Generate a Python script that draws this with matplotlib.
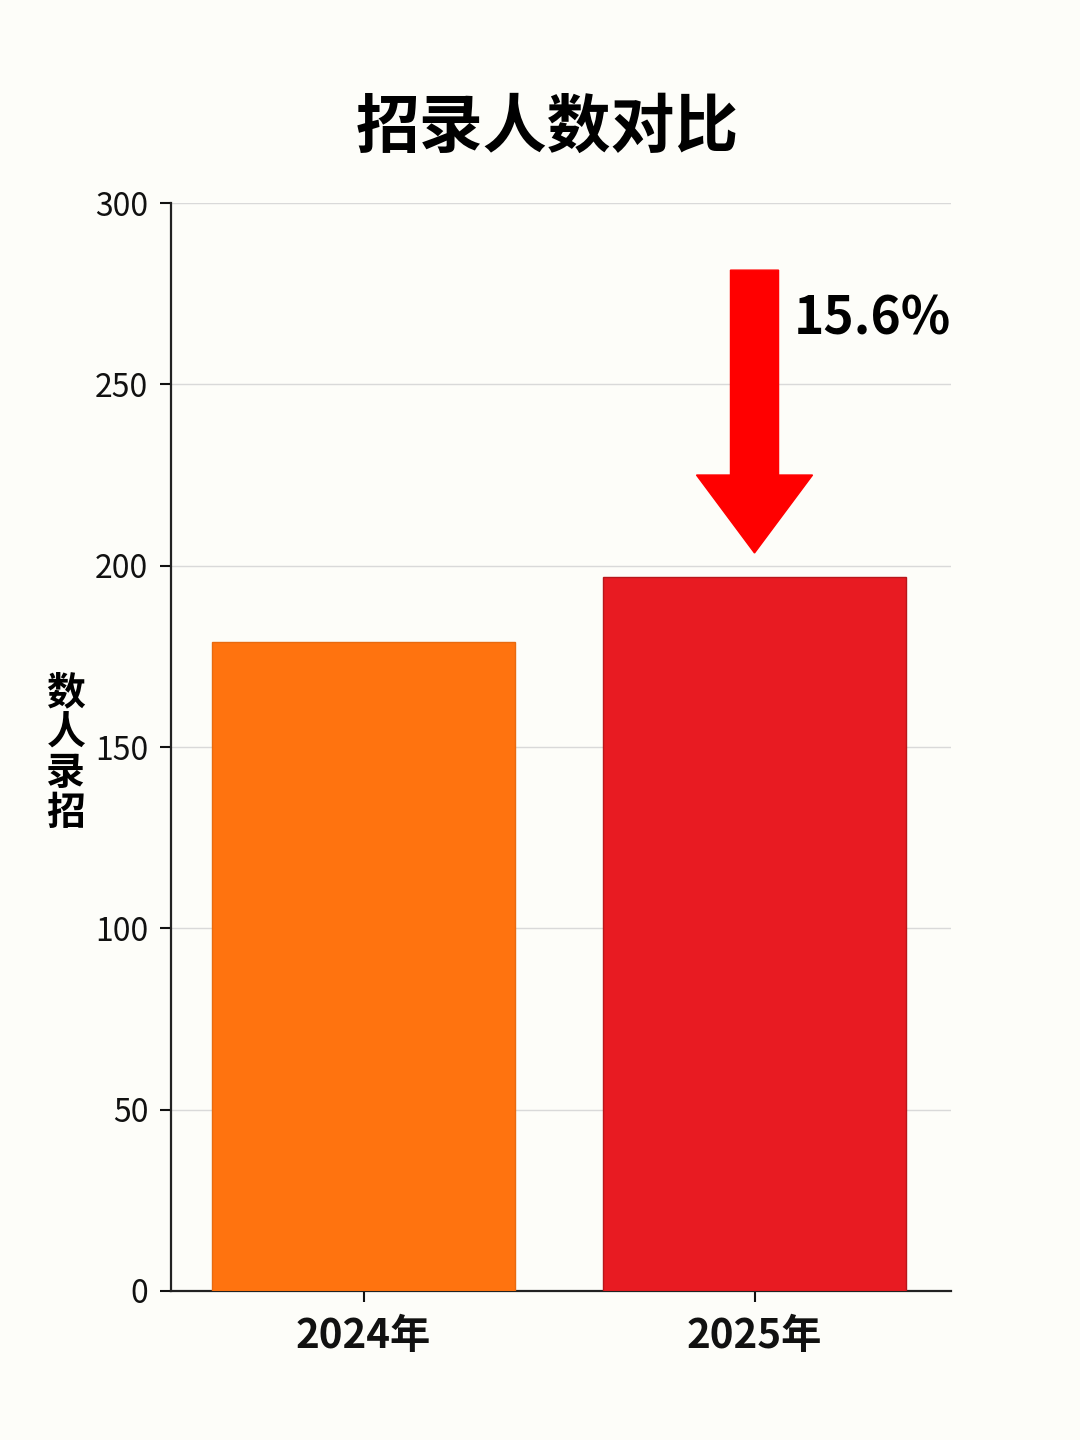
import matplotlib.pyplot as plt
from matplotlib.patches import FancyArrow

plt.rcParams['font.family'] = ['Noto Sans CJK SC', 'DejaVu Sans']

# data
years = ['2024年', '2025年']
counts = [179, 197]
bar_colors = ['#FF730F', '#E81B22']
change_label = '15.6%'
y_ticks = [0, 50, 100, 150, 200, 250, 300]

fig = plt.figure(figsize=(10.8, 14.4), dpi=100, facecolor='#fdfdf9')
ax = fig.add_axes([0.158, 0.1035, 0.723, 0.7555])
ax.set_facecolor('#fdfdf9')

x = range(len(years))
ax.bar(x, counts, width=0.775, color=bar_colors, edgecolor=['#e86a10', '#b8161b'],
       linewidth=1, zorder=3)

ax.set_xlim(-0.494, 1.504)
ax.set_ylim(0, 300)
ax.set_yticks(y_ticks)
ax.set_xticks(list(x))
ax.set_xticklabels(years, fontsize=29, fontweight='bold')
ax.tick_params(axis='y', labelsize=23, length=8, width=1.5, pad=8, colors='#111111')
ax.tick_params(axis='x', length=8, width=1.5, pad=10, colors='#111111')
ax.grid(axis='y', color='#d9d9d9', linewidth=1, zorder=0)

for side in ['top', 'right']:
    ax.spines[side].set_visible(False)
for side in ['left', 'bottom']:
    ax.spines[side].set_linewidth(1.6)
    ax.spines[side].set_color('#222222')

# down arrow above the 2025 bar
tip = counts[1] + 6.5
tail = tip + 78
arrow = FancyArrow(1, tail, 0, tip - tail, width=0.123, head_width=0.297,
                   head_length=21.5, length_includes_head=True,
                   color='#FF0000', zorder=4)
ax.add_patch(arrow)
ax.text(1.10, tail - 13.5, change_label, fontsize=37, fontweight='bold',
        va='center', ha='left', color='#000000')

fig.text(0.507, 0.911, '招录人数对比', fontsize=46, fontweight='bold',
         ha='center', va='center', color='#000000')
fig.text(0.061, 0.477, '\n'.join(reversed('招录人数')), fontsize=28,
         fontweight='bold', ha='center', va='center', linespacing=1.03,
         color='#000000')

fig.savefig('out.png', dpi=100, facecolor=fig.get_facecolor())
